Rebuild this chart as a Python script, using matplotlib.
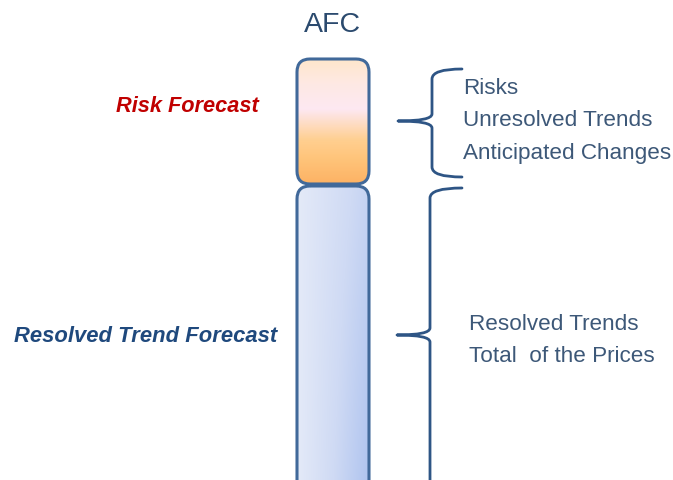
import numpy as np
import matplotlib.pyplot as plt
from matplotlib.patches import FancyBboxPatch, PathPatch
from matplotlib.path import Path
from matplotlib.colors import LinearSegmentedColormap

plt.rcParams['font.family'] = ['Liberation Sans', 'DejaVu Sans']

title = "AFC"
segments = ["Risk Forecast", "Resolved Trend Forecast"]
segment_colors = ["#c00000", "#1f497d"]
risk_items = ["Risks", "Unresolved Trends", "Anticipated Changes"]
resolved_items = ["Resolved Trends", "Total  of the Prices"]

fig = plt.figure(figsize=(6.73, 4.80), dpi=100)
ax = fig.add_axes([0, 0, 1, 1])
ax.set_xlim(0, 673)
ax.set_ylim(480, 0)
ax.axis('off')

edge = "#41699a"

# top (risk) bar, vertical gradient
top_cmap = LinearSegmentedColormap.from_list(
    "top", [(0, "#ffe6cc"), (0.2, "#fee9e4"), (0.4, "#fde8f2"),
            (0.65, "#ffcf90"), (0.8, "#ffc47a"), (1, "#fdb264")])
top_box = FancyBboxPatch((297, 59), 72, 125, boxstyle="round,pad=0,rounding_size=13",
                         fc="none", ec=edge, lw=2.2, zorder=3)
ax.add_patch(top_box)
grad = np.linspace(0, 1, 200).reshape(-1, 1)
im = ax.imshow(grad, cmap=top_cmap, extent=(297, 369, 184, 59), aspect='auto', zorder=2)
im.set_clip_path(top_box)

# bottom (resolved) bar, horizontal + vertical gradient
bot_cmap = LinearSegmentedColormap.from_list(
    "bot", [(0, "#e4eaf8"), (0.5, "#cfdaf4"), (1, "#aec3ef")])
bot_box = FancyBboxPatch((297, 186), 72, 310, boxstyle="round,pad=0,rounding_size=13",
                         fc="none", ec=edge, lw=2.2, zorder=3)
ax.add_patch(bot_box)
gx = np.linspace(0, 1, 200)
gy = np.linspace(0, 1, 200)
GX, GY = np.meshgrid(gx, gy)
field = 0.65 * GX + 0.35 * GY * GX
im2 = ax.imshow(field, cmap=bot_cmap, extent=(297, 369, 496, 186), aspect='auto',
                zorder=2, vmin=0, vmax=1)
im2.set_clip_path(bot_box)

ax.text(333, 25, title, ha='center', va='center', fontsize=20.5, color="#2b4a6e")

ax.text(187, 106, segments[0], ha='center', va='center', fontsize=15.7,
        fontweight='bold', fontstyle='italic', color=segment_colors[0])
ax.text(146, 336, segments[1], ha='center', va='center', fontsize=15.8,
        fontweight='bold', fontstyle='italic', color=segment_colors[1])


def brace(x, y0, y1, ytip, xtip, xend):
    verts = [(xend, y0), (x, y0), (x, y0 + 10),
             (x, ytip - 7), (x, ytip), (xtip, ytip),
             (x, ytip), (x, ytip + 7),
             (x, y1 - 10), (x, y1), (xend, y1)]
    codes = [Path.MOVETO, Path.CURVE3, Path.CURVE3,
             Path.LINETO, Path.CURVE3, Path.CURVE3,
             Path.CURVE3, Path.CURVE3,
             Path.LINETO, Path.CURVE3, Path.CURVE3]
    ax.add_patch(PathPatch(Path(verts, codes), fc='none', ec="#2e5585", lw=2.0,
                           capstyle='round', joinstyle='round'))


brace(432, 69, 177, 121, 398, 462)
brace(430, 188, 520, 335, 397, 462)

txt_color = "#3d5878"
for i, s in enumerate(risk_items):
    ax.text(463, 88.5 + i * 32.5, s, ha='left', va='center', fontsize=16.2, color=txt_color)
for i, s in enumerate(resolved_items):
    ax.text(469, 324.5 + i * 32.5, s, ha='left', va='center', fontsize=16.2, color=txt_color)

fig.savefig("out.png", dpi=100)
